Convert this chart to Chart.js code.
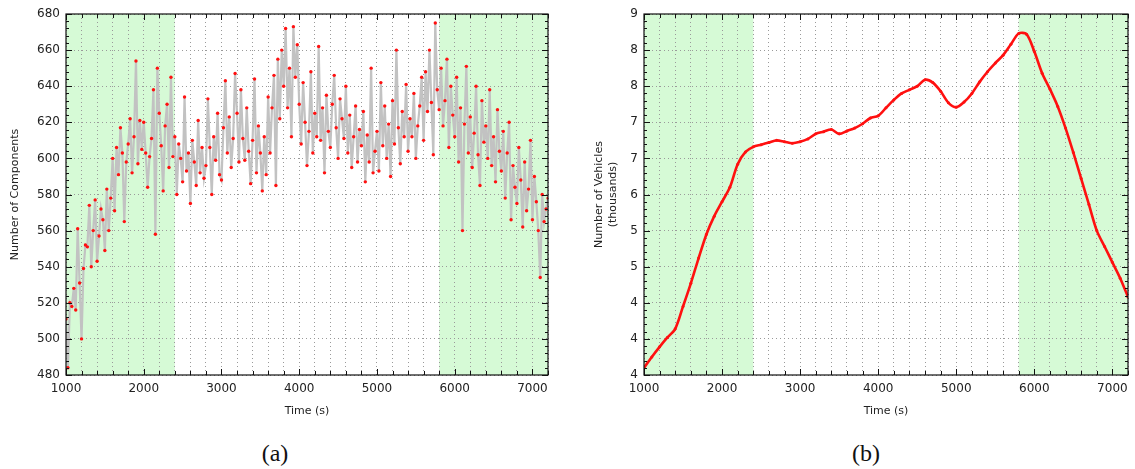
<!DOCTYPE html>
<html>
<head>
<meta charset="utf-8">
<script src="https://cdn.jsdelivr.net/npm/chart.js@4.4.1/dist/chart.umd.min.js"></script>
<style>
  body { margin: 0; background: #fff; width: 1135px; height: 469px; overflow: hidden; position: relative; }
  .box { position: absolute; top: 0; }
  .cap { position: absolute; top: 440px; font-family: "Liberation Serif", "DejaVu Serif", serif; font-size: 24px; color: #111; transform: translateX(-50%); }
</style>
</head>
<body>
<div class="box" style="left:0px;width:560px;height:420px;"><canvas id="left"></canvas></div>
<div class="box" style="left:570px;width:565px;height:420px;"><canvas id="right"></canvas></div>
<div class="cap" style="left:275px;">(a)</div>
<div class="cap" style="left:866px;">(b)</div>
<script>
// time axis
const tStart = 1000;
const tEnd = 7200;
const greenBands = [[1000, 2400], [5800, 7200]];

// (a) number of components, one sample every 25 s from 1000 s
const compStep = 25;
const components = [
  511, 484, 520, 518, 528, 516, 561, 531,
  500, 539, 552, 551, 574, 540, 560, 577,
  543, 557, 572, 566, 549, 583, 560, 578,
  600, 571, 606, 591, 617, 603, 565, 598,
  608, 622, 592, 612, 654, 597, 621, 605,
  620, 603, 584, 601, 611, 638, 558, 650,
  625, 607, 582, 618, 630, 595, 645, 601,
  612, 580, 608, 600, 587, 634, 593, 603,
  575, 610, 598, 585, 621, 592, 606, 589,
  596, 633, 606, 580, 612, 599, 625, 591,
  588, 617, 643, 603, 623, 595, 611, 647,
  625, 598, 638, 611, 599, 628, 604, 586,
  610, 644, 592, 618, 603, 582, 612, 591,
  634, 603, 628, 646, 585, 655, 622, 660,
  640, 672, 628, 650, 612, 673, 645, 663,
  630, 608, 642, 620, 596, 615, 648, 603,
  625, 612, 662, 610, 628, 592, 635, 615,
  606, 630, 646, 617, 600, 633, 622, 611,
  640, 603, 624, 595, 612, 629, 598, 616,
  607, 626, 587, 613, 598, 650, 592, 604,
  615, 593, 642, 607, 629, 600, 619, 590,
  632, 608, 660, 617, 597, 626, 612, 641,
  604, 622, 612, 636, 600, 618, 629, 645,
  610, 648, 626, 660, 631, 602, 675, 638,
  627, 650, 618, 632, 655, 606, 640, 624,
  612, 645, 598, 628, 560, 619, 651, 603,
  623, 595, 614, 640, 602, 585, 632, 609,
  618, 600, 638, 596, 612, 587, 627, 604,
  593, 615, 578, 603, 620, 566, 596, 584,
  575, 606, 588, 562, 598, 571, 583, 610,
  566, 590, 576, 560, 534, 580, 565, 572,
  578
];

// (b) number of vehicles, one sample every 100 s from 1000 s (axis units)
const vehStep = 100;
const vehicles = [
  4.10, 4.25, 4.39, 4.52, 4.64, 4.95, 5.27, 5.62, 5.95, 6.20,
  6.40, 6.60, 6.92, 7.09, 7.16, 7.19, 7.22, 7.25, 7.23, 7.21,
  7.23, 7.27, 7.34, 7.37, 7.40, 7.34, 7.38, 7.42, 7.48, 7.56,
  7.59, 7.70, 7.81, 7.90, 7.95, 8.00, 8.09, 8.05, 7.93, 7.77,
  7.71, 7.78, 7.90, 8.06, 8.20, 8.32, 8.43, 8.58, 8.73, 8.72,
  8.48, 8.18, 7.96, 7.72, 7.42, 7.08, 6.72, 6.36, 6.00, 5.78,
  5.56, 5.34, 5.08
];
// tick labels on the (b) y axis, bottom to top, as printed
const vehTickLabels = ["4", "4", "4", "5", "5", "6", "7", "7", "8", "8", "9"];

const font = { family: "DejaVu Sans", size: 12 };
const titleFont = { family: "DejaVu Sans", size: 11 };
const gridStyle = { color: "#9a9a9a", lineWidth: 1, drawTicks: false };
const dash = { dash: [1, 3] };

const framePlugin = {
  id: "frame",
  beforeDraw(chart) {
    const { ctx, chartArea: a, scales } = chart;
    ctx.save();
    ctx.fillStyle = "#d6fad6";
    greenBands.forEach(([s, e]) => {
      const x0 = scales.x.getPixelForValue(s);
      const x1 = scales.x.getPixelForValue(e);
      ctx.fillRect(x0, a.top, x1 - x0, a.bottom - a.top);
    });
    ctx.restore();
  },
  afterDraw(chart, args, opts) {
    const { ctx, chartArea: a, scales } = chart;
    ctx.save();
    ctx.strokeStyle = "#111";
    ctx.lineWidth = 1.2;
    ctx.strokeRect(a.left, a.top, a.right - a.left, a.bottom - a.top);
    ctx.lineWidth = 1;
    ctx.beginPath();
    for (let t = tStart; t <= tEnd; t += 200) {
      const x = Math.round(scales.x.getPixelForValue(t)) + 0.5;
      const len = t % 1000 === 0 ? 6 : 4;
      ctx.moveTo(x, a.bottom); ctx.lineTo(x, a.bottom - len);
      ctx.moveTo(x, a.top); ctx.lineTo(x, a.top + len);
    }
    const y = scales.y;
    const n = Math.round((y.max - y.min) / opts.minor);
    for (let i = 0; i <= n; i++) {
      const v = y.min + i * opts.minor;
      const p = Math.round(y.getPixelForValue(v)) + 0.5;
      const len = i % opts.per === 0 ? 6 : 3;
      ctx.moveTo(a.left, p); ctx.lineTo(a.left + len, p);
      ctx.moveTo(a.right, p); ctx.lineTo(a.right - len, p);
    }
    ctx.stroke();
    ctx.restore();
  }
};

function xScale() {
  return {
    type: "linear", min: tStart, max: tEnd,
    afterFit: s => { s.height = 45; },
    afterBuildTicks: s => {
      s.ticks = [];
      for (let t = tStart; t <= tEnd; t += 200) s.ticks.push({ value: t });
    },
    ticks: {
      autoSkip: false, maxRotation: 0, padding: 7, color: "#222", font,
      callback: v => (v % 1000 === 0 ? String(v) : "")
    },
    grid: gridStyle, border: Object.assign({ display: false }, dash),
    title: { display: true, text: "Time (s)", font: titleFont, color: "#222", padding: { top: 0, bottom: 2 } }
  };
}

new Chart(document.getElementById("left"), {
  type: "line",
  data: {
    datasets: [{
      data: components.map((v, i) => ({ x: tStart + i * compStep, y: v })),
      borderColor: "#c2c2c2", borderWidth: 2.2,
      pointRadius: 1.7, pointBackgroundColor: "#ff1010", pointBorderWidth: 0,
      tension: 0
    }]
  },
  options: {
    responsive: true, maintainAspectRatio: false, animation: false,
    layout: { padding: { top: 14, right: 12, left: 0, bottom: 0 } },
    plugins: { legend: { display: false }, tooltip: { enabled: false }, frame: { minor: 4, per: 5 } },
    scales: {
      x: xScale(),
      y: {
        min: 480, max: 680,
        afterFit: s => { s.width = 66; },
        ticks: { stepSize: 20, padding: 6, color: "#222", font },
        grid: gridStyle, border: Object.assign({ display: false }, dash),
        title: { display: true, text: "Number of Components", font: titleFont, color: "#222", padding: { top: 9, bottom: 0 } }
      }
    }
  },
  plugins: [framePlugin]
});

new Chart(document.getElementById("right"), {
  type: "line",
  data: {
    datasets: [{
      data: vehicles.map((v, i) => ({ x: tStart + i * vehStep, y: v })),
      borderColor: "#ff1010", borderWidth: 2.6,
      pointRadius: 1.5, pointBackgroundColor: "#ff1010", pointBorderWidth: 0,
      tension: 0.3
    }]
  },
  options: {
    responsive: true, maintainAspectRatio: false, animation: false,
    layout: { padding: { top: 14, right: 1, left: 0, bottom: 0 } },
    plugins: { legend: { display: false }, tooltip: { enabled: false }, frame: { minor: 0.1, per: 5 } },
    scales: {
      x: xScale(),
      y: {
        min: 4, max: 9,
        afterFit: s => { s.width = 74; },
        ticks: { stepSize: 0.5, padding: 6, color: "#222", font,
          callback: (v, i) => vehTickLabels[i] },
        grid: gridStyle, border: Object.assign({ display: false }, dash),
        title: { display: true, text: ["Number of Vehicles", "(thousands)"], font: titleFont, color: "#222", padding: { top: 23, bottom: 0 } }
      }
    }
  },
  plugins: [framePlugin]
});
</script>
</body>
</html>
